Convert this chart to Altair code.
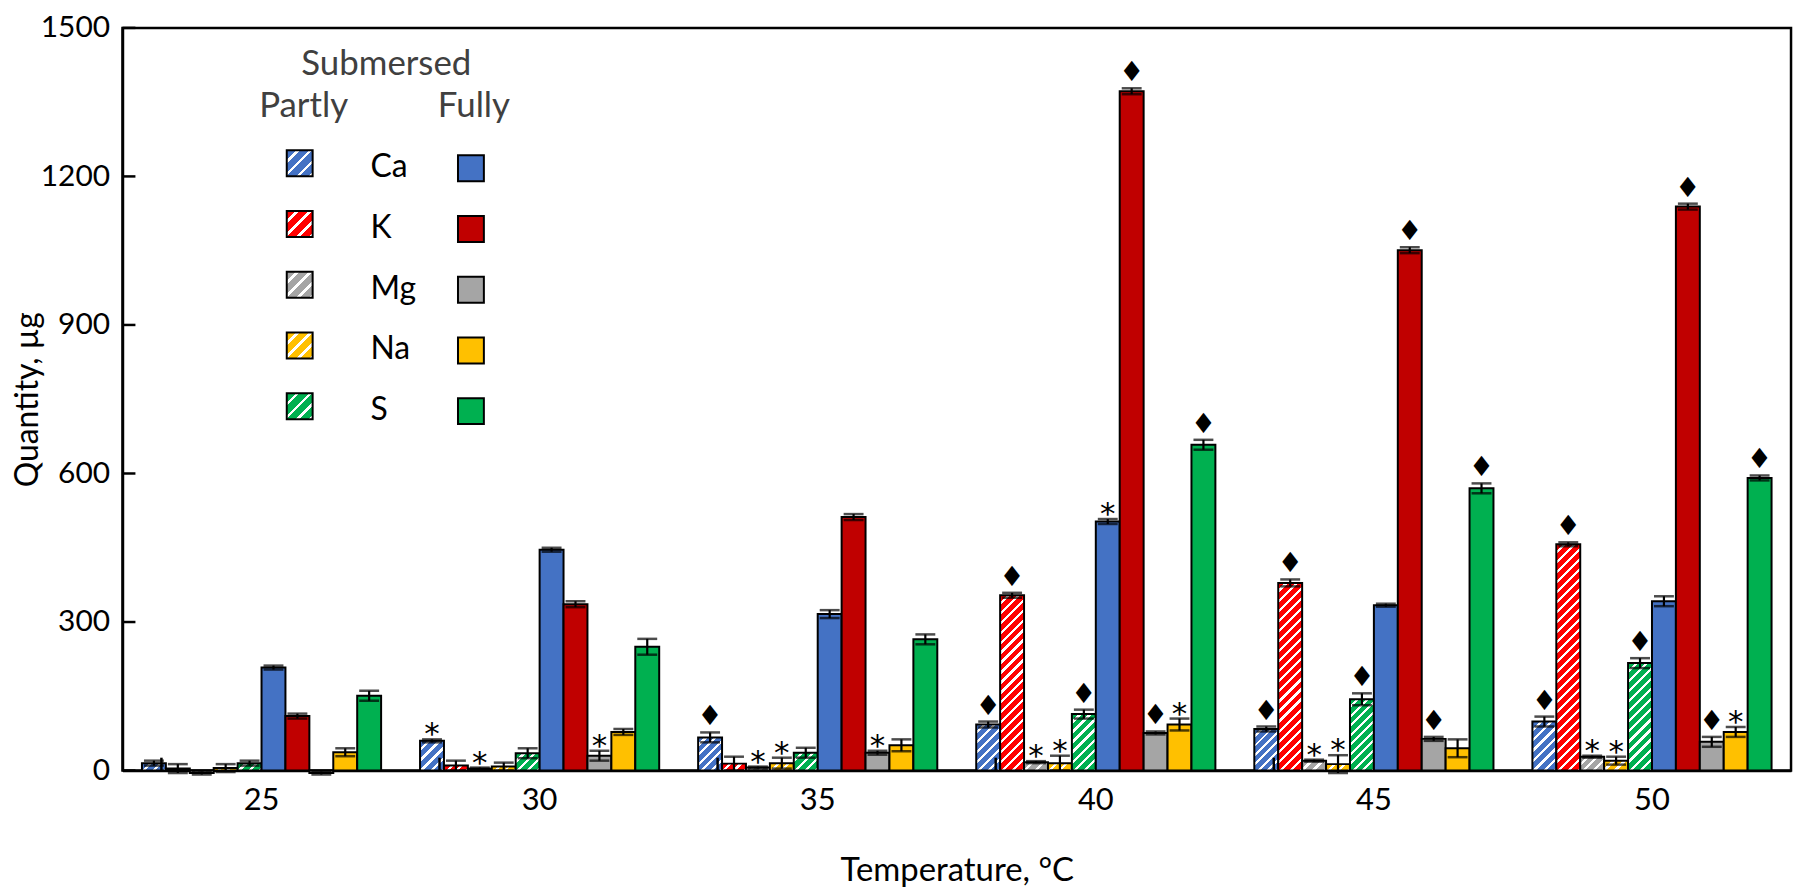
import altair as alt

# ---------------- data ----------------
temps = ["25", "30", "35", "40", "45", "50"]
elements = ["Ca", "K", "Mg", "Na", "S"]

# Partly submersed (hatched bars)
partly_ca = [15, 60, 67, 93, 84, 99]
partly_k = [4, 10, 14, 354, 379, 457]
partly_mg = [-5, 4, 6, 17, 20, 28]
partly_na = [5, 8, 15, 15, 13, 20]
partly_s = [15, 35, 36, 114, 144, 217]

partly_ca_err = [5, 3, 10, 6, 5, 10]
partly_k_err = [9, 10, 14, 5, 7, 4]
partly_mg_err = [3, 2, 2, 2, 2, 2]
partly_na_err = [8, 8, 11, 15, 18, 8]
partly_s_err = [5, 10, 10, 9, 12, 10]

partly_ca_mark = ["", "*", "♦", "♦", "♦", "♦"]
partly_k_mark = ["", "", "", "♦", "♦", "♦"]
partly_mg_mark = ["", "*", "*", "*", "*", "*"]
partly_na_mark = ["", "", "*", "*", "*", "*"]
partly_s_mark = ["", "", "", "♦", "♦", "♦"]

# Fully submersed (solid bars)
fully_ca = [208, 446, 316, 503, 334, 342]
fully_k = [110, 336, 512, 1372, 1051, 1139]
fully_mg = [-5, 30, 36, 76, 64, 58]
fully_na = [37, 78, 51, 93, 45, 78]
fully_s = [151, 250, 265, 658, 570, 591]

fully_ca_err = [4, 4, 8, 5, 3, 10]
fully_k_err = [5, 6, 6, 6, 6, 6]
fully_mg_err = [3, 10, 4, 3, 4, 10]
fully_na_err = [8, 6, 12, 12, 18, 10]
fully_s_err = [10, 16, 10, 10, 10, 5]

fully_ca_mark = ["", "", "", "*", "", ""]
fully_k_mark = ["", "", "", "♦", "♦", "♦"]
fully_mg_mark = ["", "*", "*", "♦", "♦", "♦"]
fully_na_mark = ["", "", "", "*", "", "*"]
fully_s_mark = ["", "", "", "♦", "♦", "♦"]

colors_partly = {"Ca": "#4472C4", "K": "#FF0000", "Mg": "#A5A5A5", "Na": "#FFC000", "S": "#00B050"}
colors_fully = {"Ca": "#4472C4", "K": "#C00000", "Mg": "#A5A5A5", "Na": "#FFC000", "S": "#00B050"}

y_ticks = [0, 300, 600, 900, 1200, 1500]

# ---------------- layout ----------------
W, H = 1676, 746
YMAX = 1500
PAD_IN, PAD_OUT = 0.14, 0.07
step = W / (len(temps) - PAD_IN + 2 * PAD_OUT)
band = step * (1 - PAD_IN)
bar_w = band / 10.0
PXU = H / YMAX
FONT = "Lato"

vals = {
    "P": {"Ca": partly_ca, "K": partly_k, "Mg": partly_mg, "Na": partly_na, "S": partly_s},
    "F": {"Ca": fully_ca, "K": fully_k, "Mg": fully_mg, "Na": fully_na, "S": fully_s},
}
errs = {
    "P": {"Ca": partly_ca_err, "K": partly_k_err, "Mg": partly_mg_err, "Na": partly_na_err, "S": partly_s_err},
    "F": {"Ca": fully_ca_err, "K": fully_k_err, "Mg": fully_mg_err, "Na": fully_na_err, "S": fully_s_err},
}
marks = {
    "P": {"Ca": partly_ca_mark, "K": partly_k_mark, "Mg": partly_mg_mark, "Na": partly_na_mark, "S": partly_s_mark},
    "F": {"Ca": fully_ca_mark, "K": fully_k_mark, "Mg": fully_mg_mark, "Na": fully_na_mark, "S": fully_s_mark},
}


def hatch(color, w, h, period=10.0, frac=0.32):
    """Diagonal white stripes as a bounding-box linear gradient."""
    w = max(w, 1.0)
    h = max(h, 1.0)
    L = w + h
    n = max(1, int(round(L / period)))
    stops = []
    for k in range(n):
        a = k / n
        b = (k + 1 - frac) / n
        c = (k + 1) / n
        stops += [(a, color), (b, color), (b, "#ffffff"), (c, "#ffffff")]
    d = w * w + h * h
    return {
        "gradient": "linear",
        "x1": 0, "y1": 0,
        "x2": w * L / d, "y2": h * L / d,
        "stops": [{"offset": round(o, 5), "color": col} for o, col in stops],
    }


series_order = [f"{c}_{e}" for c in ["P", "F"] for e in elements]

rows = []
for ti, t in enumerate(temps):
    for cond in ["P", "F"]:
        for e in elements:
            v = vals[cond][e][ti]
            er = errs[cond][e][ti]
            m = marks[cond][e][ti]
            if cond == "P":
                paint = hatch(colors_partly[e], bar_w, abs(v) * PXU)
            else:
                paint = colors_fully[e]
            rows.append({
                "temp": t, "series": f"{cond}_{e}", "value": v,
                "lo": v - er, "hi": v + er, "paint": paint,
                "diamond": m if m == "♦" else "", "star": m if m == "*" else "",
            })

data = alt.Data(values=rows)

x_enc = alt.X("temp:N", sort=temps, scale=alt.Scale(paddingInner=PAD_IN, paddingOuter=PAD_OUT),
              axis=alt.Axis(labelAngle=0, ticks=False, tickSize=0, labelFontSize=31, labelPadding=15,
                            title="Temperature, °C", titleFontSize=33, titleY=100,
                            titleBaseline="middle"))
xo_enc = alt.XOffset("series:N", sort=series_order,
                     scale=alt.Scale(domain=series_order, paddingInner=0, paddingOuter=0))
y_scale = alt.Scale(domain=[0, YMAX], nice=False)
y_axis = alt.Axis(values=y_ticks, format="d", ticks=False, tickSize=0, labelFontSize=30,
                  labelPadding=13, title="Quantity, µg", titleFontSize=32, titleX=-95,
                  titleY=H / 2, titleBaseline="middle", titleAngle=270)

bars = alt.Chart(data).mark_bar(stroke="black", strokeWidth=2).encode(
    x=x_enc, xOffset=xo_enc,
    y=alt.Y("value:Q", scale=y_scale, axis=y_axis),
    fill=alt.Fill("paint:N", scale=None, legend=None),
)

err_rule = alt.Chart(data).mark_rule(color="black", strokeWidth=2.2).encode(
    x=x_enc, xOffset=xo_enc, y=alt.Y("lo:Q", scale=y_scale), y2="hi:Q"
)
cap_hi = alt.Chart(data).mark_tick(color="black", orient="horizontal", size=20, thickness=2.5).encode(
    x=x_enc, xOffset=xo_enc, y=alt.Y("hi:Q", scale=y_scale)
)
cap_lo = alt.Chart(data).mark_tick(color="black", orient="horizontal", size=20, thickness=2.5).encode(
    x=x_enc, xOffset=xo_enc, y=alt.Y("lo:Q", scale=y_scale)
)
diam = alt.Chart(data).mark_text(font="DejaVu Sans", fontSize=28, color="black",
                                 baseline="alphabetic", dy=-7).encode(
    x=x_enc, xOffset=xo_enc, y=alt.Y("hi:Q", scale=y_scale), text="diamond:N"
)
star = alt.Chart(data).mark_text(font="DejaVu Sans", fontSize=31, color="black",
                                 baseline="alphabetic", dy=5).encode(
    x=x_enc, xOffset=xo_enc, y=alt.Y("hi:Q", scale=y_scale), text="star:N"
)

# small inward ticks between temperature groups
sep_rows = [{"temp": t} for t in temps[:-1]]
sep = alt.Chart(alt.Data(values=sep_rows)).mark_rule(color="black", strokeWidth=2.5).encode(
    x=alt.X("temp:N", sort=temps, bandPosition=1),
    xOffset=alt.value(PAD_IN * step / 2),
    y=alt.datum(0, scale=y_scale), y2=alt.datum(26),
)

# inward y ticks
ytick_rows = [{"v": v} for v in y_ticks]
yticks = alt.Chart(alt.Data(values=ytick_rows)).mark_rule(color="black", strokeWidth=2.5).encode(
    y=alt.Y("v:Q", scale=y_scale), x=alt.value(0), x2=alt.value(13),
)

# ---------------- legend (drawn by hand) ----------------
LEG_ROW0 = 123
LEG_DY = 61
SW = 26
PX0, FX0 = 165, 337
leg_rects = []
leg_labels = []
for i, e in enumerate(elements):
    y0 = LEG_ROW0 + i * LEG_DY
    leg_rects.append({"x": PX0, "x2": PX0 + SW, "y": y0, "y2": y0 + SW,
                      "paint": hatch(colors_partly[e], SW, SW, period=12, frac=0.3)})
    leg_rects.append({"x": FX0, "x2": FX0 + SW, "y": y0 + 5, "y2": y0 + 5 + SW,
                      "paint": colors_fully[e]})
    leg_labels.append({"x": 249, "y": y0 + SW / 2 + 4, "text": e})

leg_heads = [
    {"x": 265, "y": 36, "text": "Submersed"},
    {"x": 182, "y": 79, "text": "Partly"},
    {"x": 353, "y": 79, "text": "Fully"},
]

leg_rect = alt.Chart(alt.Data(values=leg_rects)).mark_rect(stroke="black", strokeWidth=2).encode(
    x=alt.X("x:Q", scale=None, axis=None), x2="x2:Q",
    y=alt.Y("y:Q", scale=None, axis=None), y2="y2:Q",
    fill=alt.Fill("paint:N", scale=None, legend=None),
)
leg_lab = alt.Chart(alt.Data(values=leg_labels)).mark_text(
    font=FONT, fontSize=32, color="black", align="left", baseline="middle").encode(
    x=alt.X("x:Q", scale=None, axis=None), y=alt.Y("y:Q", scale=None, axis=None), text="text:N"
)
leg_head = alt.Chart(alt.Data(values=leg_heads)).mark_text(
    font=FONT, fontSize=35, color="#404040", align="center", baseline="middle").encode(
    x=alt.X("x:Q", scale=None, axis=None), y=alt.Y("y:Q", scale=None, axis=None), text="text:N"
)

chart = alt.layer(
    bars, err_rule, cap_hi, cap_lo, diam, star, sep, yticks, leg_rect, leg_lab, leg_head
).properties(
    width=W, height=H,
    autosize=alt.AutoSizeParams(type="none"),
    padding={"left": 115, "top": 18, "right": 6, "bottom": 117},
).configure_view(
    stroke="black", strokeWidth=2.5
).configure_axis(
    domainColor="black", domainWidth=2.5, tickColor="black", tickWidth=2.5,
    labelColor="black", titleColor="black", labelFont=FONT, titleFont=FONT,
    titleFontWeight="normal", grid=False
)

chart.save("out.html", embed_options={"renderer": "svg", "actions": False})
